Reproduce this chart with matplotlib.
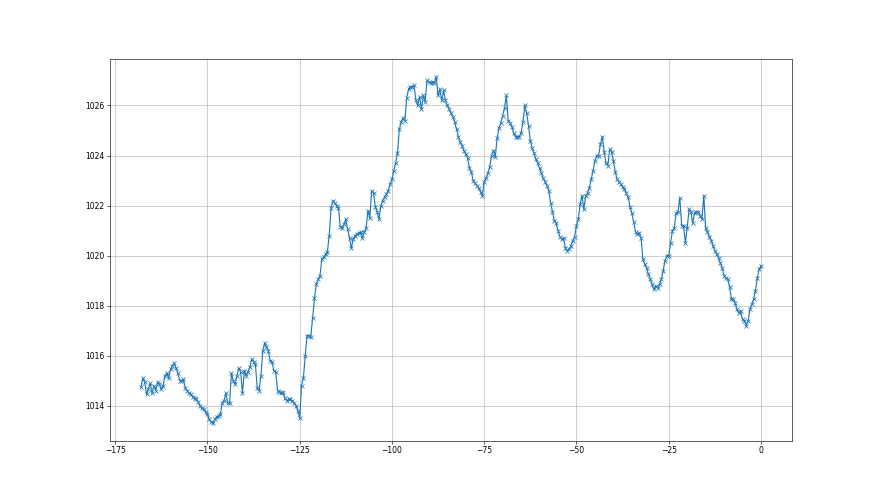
import numpy as np
import matplotlib
matplotlib.use("Agg")
import matplotlib.pyplot as plt

# pressure readings every half hour, from -168 h to 0 h
pressure = [
    1014.75, 1015.1, 1014.95, 1014.45, 1014.65, 1014.9, 1014.5, 1014.8, 1014.6, 1014.95,
    1014.85, 1014.65, 1014.8, 1015.2, 1015.3, 1015.1, 1015.45, 1015.6, 1015.7, 1015.5,
    1015.3, 1015.0, 1015.0, 1015.05, 1014.7, 1014.6, 1014.5, 1014.45, 1014.35, 1014.3,
    1014.25, 1014.15, 1014.0, 1013.9, 1013.85, 1013.75, 1013.65, 1013.45, 1013.35, 1013.3,
    1013.45, 1013.55, 1013.6, 1013.65, 1014.1, 1014.2, 1014.5, 1014.1, 1014.1, 1015.3,
    1015.0, 1014.85, 1015.2, 1015.5, 1015.35, 1014.5, 1015.4, 1015.2, 1015.35, 1015.55,
    1015.85, 1015.75, 1015.65, 1014.7, 1014.6, 1015.2, 1016.2, 1016.5, 1016.35, 1016.2,
    1015.8, 1015.75, 1015.4, 1015.35, 1014.6, 1014.55, 1014.5, 1014.55, 1014.3, 1014.2,
    1014.25, 1014.25, 1014.2, 1014.1, 1014.0, 1013.8, 1013.5, 1014.8, 1015.1, 1016.0,
    1016.8, 1016.8, 1016.75, 1017.5, 1018.3, 1018.85, 1019.05, 1019.2, 1019.85, 1019.95,
    1020.05, 1020.15, 1020.8, 1021.9, 1022.2, 1022.1, 1022.0, 1021.9, 1021.15, 1021.1,
    1021.25, 1021.45, 1021.05, 1020.7, 1020.3, 1020.65, 1020.8, 1020.85, 1020.9, 1020.95,
    1020.7, 1020.95, 1021.1, 1021.8, 1021.5, 1022.6, 1022.5, 1021.95, 1021.75, 1021.45,
    1022.0, 1022.2, 1022.35, 1022.45, 1022.6, 1022.85, 1023.05, 1023.4, 1023.7, 1024.1,
    1025.05, 1025.35, 1025.5, 1025.4, 1026.3, 1026.65, 1026.75, 1026.75, 1026.8, 1026.2,
    1026.0, 1026.35, 1025.85, 1026.4, 1026.15, 1027.0, 1026.95, 1026.9, 1026.95, 1026.9,
    1027.15, 1026.4, 1026.65, 1026.2, 1026.6, 1026.2, 1026.0, 1025.85, 1025.7, 1025.55,
    1025.35, 1025.05, 1024.75, 1024.55, 1024.4, 1024.2, 1024.05, 1023.9, 1023.5, 1023.35,
    1023.0, 1022.9, 1022.8, 1022.7, 1022.55, 1022.4, 1022.95, 1023.1, 1023.3, 1023.55,
    1024.0, 1024.2, 1023.95, 1024.7, 1025.1, 1025.3, 1025.6, 1025.9, 1026.4, 1025.4,
    1025.3, 1025.15, 1024.9, 1024.75, 1024.75, 1024.75, 1024.9, 1025.35, 1026.0, 1025.7,
    1025.2, 1024.6, 1024.3, 1024.1, 1023.85, 1023.7, 1023.5, 1023.3, 1023.1, 1022.95,
    1022.8, 1022.6, 1022.1, 1021.75, 1021.4, 1021.3, 1021.0, 1020.75, 1020.65, 1020.7,
    1020.3, 1020.2, 1020.25, 1020.4, 1020.6, 1020.75, 1021.2, 1021.45, 1022.05, 1022.4,
    1021.85, 1022.4, 1022.5, 1022.7, 1023.05, 1023.4, 1023.8, 1024.0, 1024.0, 1024.45,
    1024.75, 1024.15, 1023.7, 1023.6, 1024.25, 1024.15, 1023.8, 1023.35, 1023.05, 1022.95,
    1022.85, 1022.75, 1022.65, 1022.5, 1022.35, 1021.95, 1021.7, 1021.35, 1020.95, 1020.85,
    1020.9, 1020.7, 1019.85, 1019.65, 1019.5, 1019.25, 1019.05, 1018.85, 1018.65, 1018.8,
    1018.7, 1018.85, 1019.05, 1019.4, 1019.8, 1020.0, 1020.0, 1020.5, 1021.0, 1021.1,
    1021.7, 1021.75, 1022.3, 1021.2, 1021.2, 1020.5, 1021.1, 1021.85, 1021.75, 1021.3,
    1021.7, 1021.75, 1021.75, 1021.6, 1021.45, 1022.4, 1021.1, 1020.95, 1020.75, 1020.6,
    1020.4, 1020.2, 1020.05, 1019.9, 1019.7, 1019.5, 1019.2, 1019.1, 1019.05, 1018.75,
    1018.25, 1018.25, 1018.1, 1017.85, 1017.7, 1017.8, 1017.45, 1017.4, 1017.2, 1017.4,
    1017.85, 1018.05, 1018.25, 1018.6, 1019.1, 1019.45, 1019.6,
]
step_hours = 0.5
hours = -step_hours * np.arange(len(pressure))[::-1]

fig, ax = plt.subplots(figsize=(16, 9), dpi=55)
ax.plot(hours, pressure, marker="x", color="C0")
ax.grid(True)
fig.savefig("out.png", dpi=55)
